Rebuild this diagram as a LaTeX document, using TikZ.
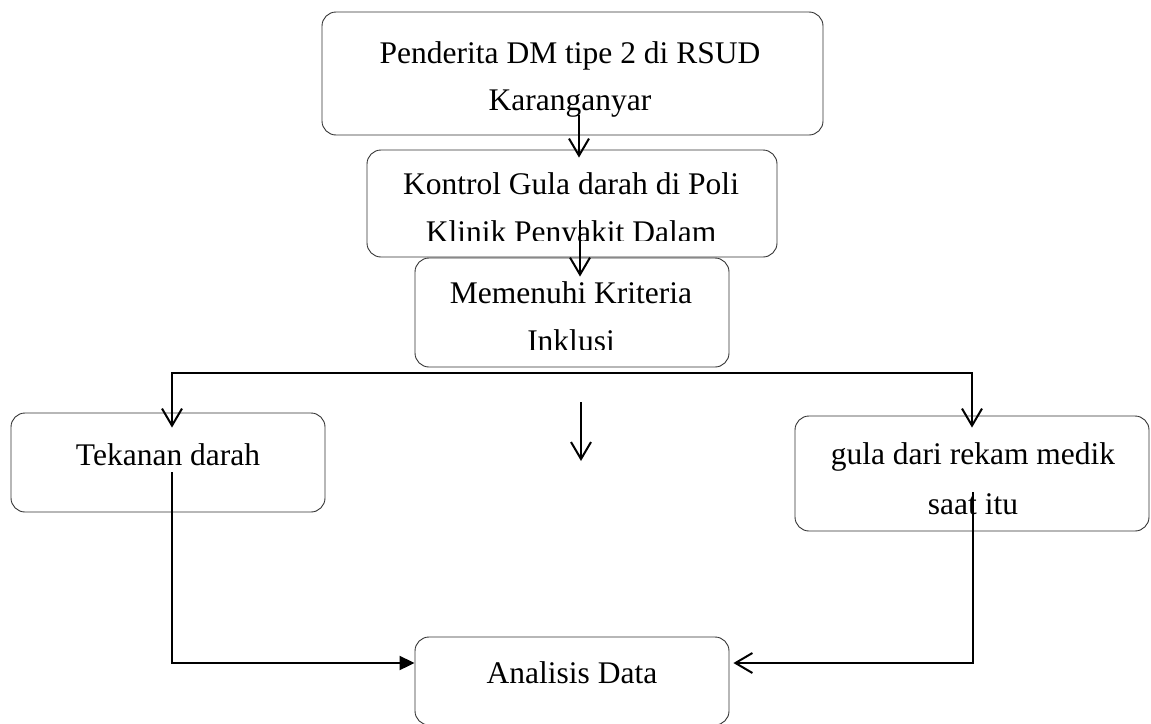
\documentclass[tikz,border=0pt]{standalone}
\usepackage{fontspec}
\setmainfont{Liberation Serif}
\usetikzlibrary{arrows.meta,calc}

\begin{document}
\begin{tikzpicture}[x=1pt,y=-1pt,
  box/.style={draw=black!80, line width=0.9pt, rounded corners=14pt,
    inner sep=0pt, rectangle},
  lbl/.style={anchor=base, inner sep=0pt, font=\fontsize{31.5}{38}\selectfont},
  conn/.style={draw=black, line width=2pt},
  barb/.style={conn, -{Straight Barb[length=17pt,width=20pt,line width=2pt]}},
  solidtip/.style={conn, -{Triangle[length=15pt,width=14pt]}}
]
\useasboundingbox (0,0) rectangle (1151,723);

% boxes
\node[box, minimum width=501pt, minimum height=123pt] (b1) at (572.5,73.5) {};
\node[box, minimum width=410pt, minimum height=107pt] (b2) at (572,203.5) {};
\node[box, minimum width=314pt, minimum height=109pt] (b3) at (572,312.5) {};
\node[box, minimum width=314pt, minimum height=99pt] (tek) at (168,462.5) {};
\node[box, minimum width=354pt, minimum height=115pt] (gula) at (972,473.5) {};
\node[box, minimum width=314pt, minimum height=88pt] (ana) at (572,681) {};

% labels
\node[lbl] (t1a) at (570,63) {Penderita DM tipe 2 di RSUD};
\node[lbl] (t1b) at (570,110) {Karanganyar};
\node[lbl] (t2a) at (571,194) {Kontrol Gula darah di Poli};
\begin{scope}
  \clip (367,200) rectangle (777,240.5);
  \node[lbl] (t2b) at (571,242) {Klinik Penyakit Dalam};
\end{scope}
\node[lbl] (t3a) at (571,303) {Memenuhi Kriteria};
\begin{scope}
  \clip (415,310) rectangle (729,349.5);
  \node[lbl] (t3b) at (571,351) {Inklusi};
\end{scope}
\node[lbl] (t4) at (168,465) {Tekanan darah};
\node[lbl] (t5a) at (973,464) {gula dari rekam medik};
\node[lbl] (t5b) at (973,514) {saat itu};
\node[lbl] (t6) at (572,683) {Analisis Data};

% connectors
\draw[barb] ($(b1.south)+(6.5,-20)$) -- ($(b2.north)+(7,8)$);
\draw[barb] ($(b2.south)+(8,-37)$) -- ($(b3.north)+(8,19)$);
\coordinate (split) at ($(b3.south)+(0,6)$);
\draw[barb] (split) -| ($(tek.north)+(4,15)$);
\draw[barb] (split) -| ($(gula.north)+(0,12)$);
\coordinate (m1) at (581,402);
\coordinate (m2) at (581,461);
\draw[barb] (m1) -- (m2);
\draw[solidtip] ($(tek.south)+(4,-40)$) |- ($(ana.west)+(0,-18)$);
\draw[barb] ($(gula.south)+(1,-39)$) |- ($(ana.east)+(4,-18)$);
\end{tikzpicture}
\end{document}
